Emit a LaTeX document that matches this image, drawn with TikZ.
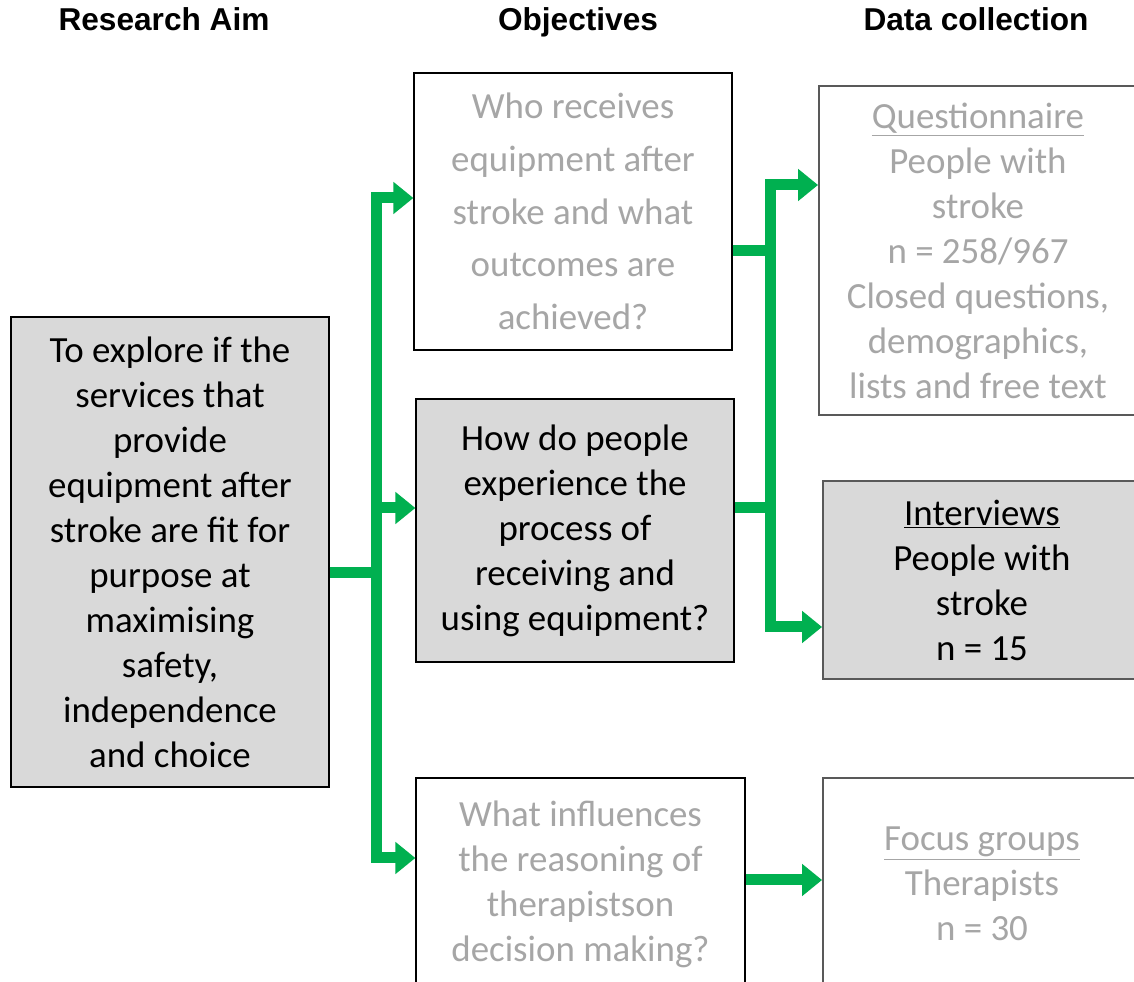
\documentclass[tikz,border=0pt]{standalone}
\usepackage{fontspec}
\usetikzlibrary{arrows.meta}
\newfontfamily\bodyfont{Carlito}
\newfontfamily\headfont{Liberation Sans}
\definecolor{boxgray}{HTML}{D9D9D9}
\definecolor{fadetext}{HTML}{A6A6A6}
\definecolor{edgegray}{HTML}{595959}
\definecolor{flowgreen}{HTML}{00B050}
\tikzset{
    heading/.style={anchor=base, font=\headfont\bfseries\fontsize{18}{21}\selectfont},
    box/.style={draw, line width=0.75pt, inner sep=0pt, align=center,
        font=\bodyfont\fontsize{21}{25.6}\selectfont},
    filled/.style={box, fill=boxgray, text=black},
    faded/.style={box, fill=white, text=fadetext},
    collect/.style={draw=edgegray, line width=1.1pt},
    flowline/.style={draw=flowgreen, line width=0.22cm},
    flow/.style={flowline, -{Triangle[length=0.4cm, width=0.62cm]}}
}

\begin{document}
\begin{tikzpicture}[x=0.02cm, y=-0.02cm]
    \clip (0,0) rectangle (1134,982);
    \fill[white] (0,0) rectangle (1134,982);

    \node[heading] (haim) at (164,31) {Research Aim};
    \node[heading] (hobj) at (578,31) {Objectives};
    \node[heading] (hdata) at (976,31) {Data collection};

    \node[filled, minimum width=6.36cm, minimum height=9.4cm] (aim) at (170,552)
        {To explore if the\\services that\\provide\\equipment after\\stroke are fit for\\purpose at\\maximising\\safety,\\independence\\and choice};

    \node[faded, minimum width=6.36cm, minimum height=5.54cm,
        font=\bodyfont\fontsize{21}{30}\selectfont] (obj1) at (573,211.5)
        {Who receives\\equipment after\\stroke and what\\outcomes are\\achieved?};
    \node[filled, minimum width=6.36cm, minimum height=5.26cm] (obj2) at (575,530.5)
        {How do people\\experience the\\process of\\receiving and\\using equipment?};
    \node[faded, minimum width=6.58cm, minimum height=4.24cm] (obj3) at (580.5,884)
        {What influences\\the reasoning of\\therapistson\\decision making?};

    \node[faded, collect, minimum width=6.36cm, minimum height=6.58cm] (dc1) at (978,250.5)
        {\underline{Questionnaire}\\People with\\stroke\\n = 258/967\\Closed questions,\\demographics,\\lists and free text};
    \node[filled, collect, minimum width=6.36cm, minimum height=3.96cm] (dc2) at (982,580)
        {\underline{Interviews}\\People with\\stroke\\n = 15};
    \node[faded, collect, minimum width=6.36cm, minimum height=4.24cm] (dc3) at (982,884)
        {\underline{Focus groups}\\Therapists\\n = 30};

    \coordinate (fork) at (376,573);
    \coordinate (a1) at (376,198);
    \coordinate (a2) at (376,508);
    \coordinate (a3) at (376,858);
    \coordinate (b1) at (770,185);
    \coordinate (b2) at (770,627);
    \coordinate (m1) at (770,251);
    \coordinate (m2) at (770,508);
    \coordinate (c1) at (780,880);

    \draw[flowline] (aim.east |- fork) -- (fork);
    \draw[flow] (a3) -- (a1) -- (obj1.west |- a1);
    \draw[flow] (a1) -- (a3) -- (obj3.west |- a3);
    \draw[flow] (a2) -- (obj2.west |- a2);

    \draw[flowline] (obj1.east |- m1) -- (m1);
    \draw[flowline] (obj2.east |- m2) -- (m2);
    \draw[flow] (b2) -- (b1) -- (dc1.west |- b1);
    \draw[flow] (b1) -- (b2) -- (dc2.west |- b2);
    \draw[flow] (obj3.east |- c1) -- (dc3.west |- c1);
\end{tikzpicture}
\end{document}
